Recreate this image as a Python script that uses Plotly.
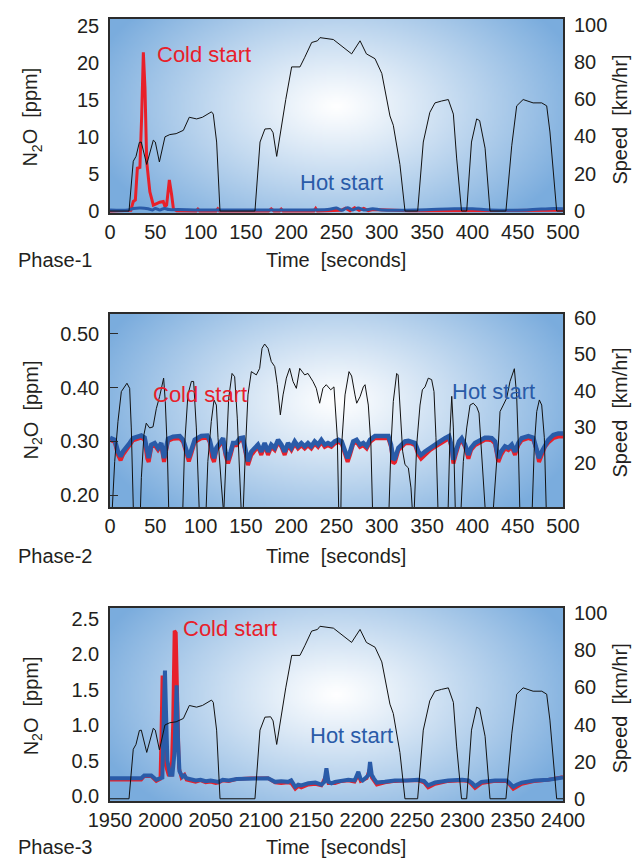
import base64, struct, zlib, math
import plotly.graph_objects as go

# ---------------- DATA ----------------
# Phase-1 speed (km/hr)
t1_speed = [0, 21, 25.7, 28.7, 32.4, 34.5, 40.5, 47.8, 50, 54.5, 60.7, 66, 73, 81, 87.5, 95.6, 102, 112, 114,
            117.7, 121.4, 160, 165.6, 171, 177.3, 180, 184, 187.6, 194, 200.5, 209.7, 215, 222.6, 229, 231.8,
            246.5, 255.7, 266.7, 276, 283, 292.5, 300, 309, 312.7, 320, 325.6, 339.6, 345.8, 353, 358.7, 366,
            373.4, 379, 382.6, 388, 393.7, 399, 404.7, 408, 414, 419.4, 437, 443.4, 448.9, 456, 467, 476.5,
            482, 485.6, 489.3, 493, 500]
speed1 = [0, 0, 26.7, 29.3, 36.8, 37, 25, 38, 37, 26.3, 39.8, 41, 41.5, 43.3, 50.3, 49.4, 50.3, 53.2, 52,
          37, 0, 0, 37, 44, 44.2, 42, 29.3, 40.7, 59.8, 77.3, 77.3, 82.5, 90.4, 91.3, 93,
          92, 88.6, 84.3, 91.3, 84.3, 81.7, 73.8, 51, 46, 25, 0, 0, 37, 52.9, 58, 59,
          59.8, 52, 28.4, 0, 0, 37, 49.4, 48.5, 33.7, 0, 0, 35, 56.4, 59.8, 58, 58,
          56.4, 42.4, 20, 0, 0]

# Phase-1 N2O (ppm)
t1_cold = [0, 20, 23, 25.7, 28, 30.2, 33, 35, 36.8, 38.6, 40.5, 44, 47.8, 51.5, 55, 58.8, 60.7, 62.5, 64.4,
           65.5, 68, 70, 73.6, 95, 97, 99, 117, 119, 121, 175, 178, 181, 187, 189, 191, 225, 227, 229,
           255, 260, 265, 270, 275, 280, 285, 290, 330, 400, 500]
n2o1_cold = [0, 0, 0.1, 1.3, 1.5, 5.8, 5.9, 13, 21.5, 16.7, 6.7, 2.6, 0.8, 1.0, 1.2, 1.3, 0.6, 0.8, 3.55,
             4.2, 2.2, 0.3, 0.05, 0, 0.25, 0, 0, 0.3, 0, 0, 0.3, 0, 0, 0.25, 0, 0, 0.35, 0,
             0.1, 0.4, 0.05, 0.45, 0.1, 0.35, 0.05, 0.2, 0.05, 0.1, 0.1]
t1_hot = [0, 20, 26, 34, 42, 47, 50, 55, 60, 65, 75, 100, 150, 200, 240, 250, 256, 262, 268, 274, 280, 290,
          300, 340, 380, 400, 420, 460, 490, 500]
n2o1_hot = [0.15, 0.15, 0.35, 0.4, 0.3, 0.15, 0.35, 0.15, 0.35, 0.2, 0.2, 0.15, 0.15, 0.15, 0.2, 0.4, 0.1,
            0.45, 0.15, 0.4, 0.15, 0.3, 0.15, 0.15, 0.3, 0.3, 0.15, 0.15, 0.35, 0.3]

# Phase-2 speed (km/hr)
t2_speed = [0, 2, 5.2, 8.8, 12.5, 16.2, 18.7, 21.7, 23.5, 26.5, 32.7, 34.6, 37.5, 40, 43.8, 47.5, 51.1, 54.8,
            57.4, 59.2, 61, 63.3, 65.5, 79.5, 82.4, 86, 89.8, 92.3, 95.3, 99.5, 105, 108, 111.8, 114.8, 117.4,
            119.2, 122.9, 125.5, 128.4, 131, 134.7, 137.6, 140.5, 143.2, 146, 149.4, 152.3, 156, 161.5, 165.2,
            167.8, 170.7, 174.4, 178, 181.8, 184.7, 188, 191, 194.6, 198.3, 202, 205.7, 209.4, 214.9, 218.5,
            224, 227.7, 231.4, 235, 238.7, 243.6, 247.2, 250.9, 253, 254.5, 255.7, 259.4, 263.8, 266.7, 270.4,
            272.3, 276, 279.6, 281.5, 285.1, 288, 290.5, 307, 310.2, 312.7, 316.4, 318, 320.8, 323, 325.6,
            329.3, 332.2, 335, 338.5, 342.2, 344.8, 347.7, 351.3, 355, 357.6, 359.8, 362.8, 372.5, 375.3,
            377.2, 379, 381.8, 386, 390, 393.7, 397.4, 401, 404.7, 407.3, 410.2, 413.1, 416, 421, 424.2,
            426.8, 428.6, 430.5, 434.1, 437.8, 441.5, 446.3, 448.8, 450.7, 453, 465, 468.4, 471, 473.9,
            476.5, 479.4, 482.3, 500]
speed2 = [0, 5, 20.5, 31.5, 39.7, 41, 42, 40.6, 29.7, 0, 0, 16, 27.9, 31, 29.7, 30, 35, 38.4,
          41.6, 43.4, 37, 23.3, 0, 0, 25, 38.8, 42.5, 42.5, 29.7, 0, 0, 20.5, 31.5, 37.4, 36,
          27, 14, 6, 23.3, 37.9, 44.7, 43.8, 32.4, 16, 0, 23.3, 38.8, 45.2, 44.3, 46.1,
          51.6, 52.8, 51.6, 48, 46.6, 41.6, 33.3, 38.8, 43.4, 46.1, 42.5, 40.6, 46.1, 44.3, 44.7,
          42.5, 40.6, 36.5, 40.6, 41.6, 40.2, 41, 27, 0, 0, 25, 38.8, 45.2, 44, 38.8,
          36.5, 38.3, 41, 41.6, 36, 25, 0, 0, 25, 37, 44.7, 44.3, 34.2, 23.3, 19.6,
          18.7, 13.2, 2, 25, 36, 40.2, 41, 43.4, 43, 39.7, 27, 0, 0, 28.8,
          38.4, 29.7, 0, 0, 20.5, 29.7, 36, 36.5, 35.5, 33.8, 23.3, 14.2, 0, 0, 12.3,
          20.5, 25, 34.2, 36, 37.9, 42.5, 46, 38.8, 25, 0, 0, 25, 34.2, 37.4,
          36, 27, 0, 0]

# Phase-2 N2O (ppm)
t2_n2o = [0, 5.2, 8.8, 11.7, 14.2, 17.9, 21.7, 25.4, 34.6, 38.2,
          41.2, 42.7, 45.6, 49.3, 53, 56.6, 59.6, 62.2, 64, 69.6,
          77, 80.7, 84.4, 87, 89.8, 93.5, 100.8, 107.5, 110, 112.6,
          114.8, 117.4, 121, 124.8, 127.4, 130.3, 133.2, 135.8, 139.5, 143.2,
          146.8, 149.4, 152.3, 156, 159.7, 163.3, 167, 170.7, 174.4, 178,
          181.8, 185.5, 189.2, 192.8, 196.5, 200.2, 203.9, 207.5, 211.2, 214.9,
          218.5, 222.2, 225.9, 229.6, 233.3, 237, 240.6, 244.3, 248, 252,
          255.7, 259.4, 262.3, 264.9, 268.5, 272.2, 275.9, 279.6, 283.3, 287,
          292.5, 299.9, 307.2, 310.2, 312.7, 314.6, 318.3, 322, 325.6, 329.3,
          333, 336.7, 340.4, 343.3, 347.7, 353.3, 358.8, 364.3, 369.8, 374.2,
          377.2, 379, 381.5, 385.2, 388.2, 391.9, 395.6, 398.5, 402.9, 406.6,
          410.2, 413.9, 417.6, 421.3, 425, 428.6, 431.6, 436, 439.7, 443.4,
          447, 450.7, 454.4, 461.8, 467.3, 471, 473.5, 476.5, 480.1, 483.8,
          489.3, 494.8, 500]
n2o2_hot = [0.307, 0.303, 0.281, 0.272, 0.281, 0.288, 0.297, 0.306, 0.311, 0.307,
            0.275, 0.269, 0.294, 0.297, 0.288, 0.297, 0.269, 0.288, 0.305, 0.309,
            0.310, 0.303, 0.281, 0.270, 0.284, 0.303, 0.310, 0.311, 0.303, 0.278,
            0.269, 0.288, 0.297, 0.306, 0.281, 0.266, 0.281, 0.297, 0.297, 0.306,
            0.307, 0.284, 0.263, 0.281, 0.288, 0.294, 0.281, 0.297, 0.281, 0.294,
            0.288, 0.303, 0.294, 0.281, 0.297, 0.288, 0.300, 0.291, 0.297, 0.291,
            0.297, 0.291, 0.300, 0.294, 0.303, 0.294, 0.297, 0.294, 0.300, 0.303,
            0.300, 0.284, 0.269, 0.281, 0.300, 0.303, 0.294, 0.297, 0.291, 0.303,
            0.310, 0.310, 0.310, 0.294, 0.266, 0.269, 0.288, 0.294, 0.300, 0.301,
            0.300, 0.297, 0.281, 0.275, 0.281, 0.288, 0.294, 0.300, 0.306, 0.310,
            0.291, 0.266, 0.281, 0.300, 0.306, 0.294, 0.275, 0.288, 0.297, 0.300,
            0.303, 0.307, 0.307, 0.306, 0.300, 0.269, 0.281, 0.291, 0.288, 0.294,
            0.281, 0.297, 0.306, 0.310, 0.307, 0.288, 0.269, 0.281, 0.294, 0.303,
            0.312, 0.315, 0.315]
n2o2_cold = [0.303, 0.299, 0.275, 0.265, 0.275, 0.284, 0.293, 0.302, 0.307, 0.303,
             0.268, 0.262, 0.290, 0.293, 0.284, 0.293, 0.262, 0.284, 0.301, 0.305,
             0.306, 0.299, 0.275, 0.263, 0.278, 0.299, 0.306, 0.307, 0.299, 0.271,
             0.262, 0.284, 0.293, 0.302, 0.275, 0.259, 0.275, 0.293, 0.293, 0.302,
             0.303, 0.278, 0.256, 0.275, 0.284, 0.290, 0.275, 0.293, 0.275, 0.290,
             0.284, 0.299, 0.290, 0.275, 0.293, 0.284, 0.296, 0.287, 0.293, 0.287,
             0.293, 0.287, 0.296, 0.290, 0.299, 0.290, 0.293, 0.290, 0.296, 0.299,
             0.296, 0.278, 0.262, 0.275, 0.296, 0.299, 0.290, 0.293, 0.287, 0.299,
             0.306, 0.306, 0.306, 0.290, 0.259, 0.262, 0.284, 0.290, 0.296, 0.297,
             0.296, 0.293, 0.275, 0.268, 0.275, 0.284, 0.290, 0.296, 0.302, 0.306,
             0.287, 0.259, 0.275, 0.296, 0.302, 0.290, 0.268, 0.284, 0.293, 0.296,
             0.299, 0.303, 0.303, 0.302, 0.296, 0.262, 0.275, 0.287, 0.284, 0.290,
             0.275, 0.293, 0.302, 0.306, 0.303, 0.284, 0.262, 0.275, 0.290, 0.298,
             0.306, 0.309, 0.309]

# Phase-3 speed (km/hr)
t3_speed = [1950, 1968.9, 1973.1, 1975.8, 1979.2, 1981.1, 1986.5, 1993.0, 1995, 1999.1, 2004.6, 2009.4,
            2015.7, 2022.9, 2028.8, 2036.0, 2041.8, 2050.8, 2052.6, 2055.9, 2059.3, 2094, 2099.0, 2103.9,
            2109.6, 2112, 2115.6, 2118.8, 2124.6, 2130.5, 2138.7, 2143.5, 2150.3, 2156.1, 2158.6, 2171.9,
            2180.1, 2190.0, 2198.4, 2204.7, 2213.3, 2220, 2228.1, 2231.4, 2238, 2243.0, 2255.6, 2261.2,
            2267.7, 2272.8, 2279.4, 2286.1, 2291.1, 2294.3, 2299.2, 2304.3, 2309.1, 2314.2, 2317.2, 2322.6,
            2327.5, 2343.3, 2349.1, 2354.0, 2360.4, 2370.3, 2378.9, 2383.8, 2387.0, 2390.4, 2393.7, 2400]
speed3 = [0, 0, 26.7, 29.3, 36.8, 37, 25, 38, 37, 26.3, 39.8, 41,
          41.5, 43.3, 50.3, 49.4, 50.3, 53.2, 52, 37, 0, 0, 37, 44,
          44.2, 42, 29.3, 40.7, 59.8, 77.3, 77.3, 82.5, 90.4, 91.3, 93, 92,
          88.6, 84.3, 91.3, 84.3, 81.7, 73.8, 51, 46, 25, 0, 0, 37,
          52.9, 58, 59, 59.8, 52, 28.4, 0, 0, 37, 49.4, 48.5, 33.7,
          0, 0, 35, 56.4, 59.8, 58, 58, 56.4, 42.4, 20, 0, 0]

# Phase-3 N2O (ppm)
t3_hot = [1950, 1981, 1984, 1991, 1996, 2002, 2003.5, 2004.6, 2005.6, 2007, 2009.6, 2012, 2014, 2016.2,
          2017.5, 2019, 2022, 2024, 2026, 2030, 2035, 2040, 2045, 2050, 2055, 2058, 2062, 2068, 2076, 2090,
          2107, 2114, 2120, 2127, 2130, 2134, 2137, 2140, 2147, 2154, 2160, 2163, 2165, 2167, 2170, 2173.5,
          2180, 2186.7, 2193, 2196.7, 2199, 2201, 2205, 2207, 2208.3, 2210, 2212, 2215, 2223, 2233, 2245,
          2256, 2262, 2266, 2273, 2286, 2299.7, 2306, 2310, 2312.6, 2316, 2319, 2332.5, 2344, 2347, 2350.6,
          2354, 2359, 2372, 2385.6, 2400]
n2o3_hot = [0.25, 0.25, 0.29, 0.29, 0.23, 0.26, 1.2, 1.77, 1.2, 0.5, 0.3, 0.3, 0.6, 1.56,
            0.8, 0.35, 0.27, 0.29, 0.25, 0.24, 0.22, 0.23, 0.21, 0.22, 0.2, 0.2, 0.23, 0.22, 0.24, 0.25,
            0.25, 0.2, 0.21, 0.2, 0.22, 0.13, 0.16, 0.15, 0.18, 0.19, 0.16, 0.2, 0.39, 0.2, 0.18, 0.2,
            0.22, 0.23, 0.22, 0.34, 0.24, 0.22, 0.27, 0.3, 0.48, 0.3, 0.25, 0.19, 0.2, 0.22, 0.22,
            0.23, 0.21, 0.15, 0.19, 0.22, 0.23, 0.22, 0.18, 0.14, 0.17, 0.2, 0.22, 0.22, 0.18, 0.13,
            0.16, 0.19, 0.22, 0.23, 0.26]
t3_cold = [1950, 1981, 1984, 1991, 1996, 2000, 2001, 2002, 2003, 2005, 2008, 2011, 2012.5, 2014, 2015.5,
           2017, 2018.5, 2021, 2024, 2026, 2030, 2035, 2040, 2045, 2050, 2055, 2058, 2062, 2068, 2076, 2090,
           2107, 2114, 2120, 2127, 2130, 2134, 2137, 2140, 2147, 2154, 2160, 2165, 2167, 2173.5, 2180,
           2186.7, 2193, 2196.7, 2199, 2205, 2208.3, 2210, 2215, 2223, 2233, 2245, 2256, 2262, 2266, 2273,
           2286, 2299.7, 2306, 2312.6, 2319, 2332.5, 2344, 2350.6, 2359, 2372, 2385.6, 2400]
n2o3_cold = [0.23, 0.23, 0.28, 0.28, 0.21, 0.24, 0.9, 1.70, 0.9, 0.45, 0.3, 0.3, 1.0, 2.33, 2.3,
             1.0, 0.4, 0.26, 0.3, 0.23, 0.22, 0.2, 0.22, 0.19, 0.2, 0.18, 0.19, 0.22, 0.21, 0.24, 0.25,
             0.25, 0.19, 0.18, 0.19, 0.18, 0.1, 0.14, 0.12, 0.16, 0.17, 0.15, 0.3, 0.18, 0.18, 0.21,
             0.22, 0.2, 0.3, 0.21, 0.25, 0.4, 0.26, 0.16, 0.19, 0.21, 0.22, 0.22, 0.19, 0.12, 0.17,
             0.21, 0.22, 0.21, 0.11, 0.18, 0.21, 0.21, 0.1, 0.17, 0.21, 0.23, 0.27]

# tick labels
x12_ticks = list(range(0, 501, 50))
x3_ticks = list(range(1950, 2401, 50))
y1_ticks = [0, 5, 10, 15, 20, 25]
y2_ticks = [0.20, 0.30, 0.40, 0.50]
y3_ticks = [0.0, 0.5, 1.0, 1.5, 2.0, 2.5]
s13_ticks = [0, 20, 40, 60, 80, 100]
s2_ticks = [20, 30, 40, 50, 60]

# ---------------- STYLE ----------------
RED = "#e8202a"
BLUE = "#2a5ba8"
FONT = "Liberation Sans, Arial, Helvetica, sans-serif"
TXT = "#231f20"

W, H = 642, 859
L, R, T, B = 110, 79, 16, 58
PH = H - T - B


def ydom(top_px, bot_px):
    return [(H - B - bot_px) / PH, (H - B - top_px) / PH]


dom1 = ydom(16, 211)
dom2 = ydom(312, 506)
dom3 = ydom(607, 801)


def gradient_png(w, h, cx, cy, rx, ry, power, inner, outer):
    raw = bytearray()
    for j in range(h):
        raw.append(0)
        for i in range(w):
            dx = ((i + 0.5) / w - cx) / rx
            dy = ((j + 0.5) / h - cy) / ry
            d = min(1.0, math.sqrt(dx * dx + dy * dy))
            f = d ** power
            for k in range(3):
                raw.append(int(round(inner[k] + (outer[k] - inner[k]) * f)))

    def chunk(tag, data):
        return (struct.pack(">I", len(data)) + tag + data +
                struct.pack(">I", zlib.crc32(tag + data) & 0xFFFFFFFF))

    png = (b"\x89PNG\r\n\x1a\n" +
           chunk(b"IHDR", struct.pack(">IIBBBBB", w, h, 8, 2, 0, 0, 0)) +
           chunk(b"IDAT", zlib.compress(bytes(raw), 9)) +
           chunk(b"IEND", b""))
    return "data:image/png;base64," + base64.b64encode(png).decode()


bg = gradient_png(226, 97, 0.5, 0.45, 0.56, 0.78, 1.1, (255, 255, 255), (122, 172, 221))

fig = go.Figure()

# Panel 1
fig.add_trace(go.Scatter(x=t1_cold, y=n2o1_cold, mode="lines", line=dict(color=RED, width=3),
                         xaxis="x", yaxis="y", showlegend=False))
fig.add_trace(go.Scatter(x=t1_hot, y=n2o1_hot, mode="lines", line=dict(color=BLUE, width=3, shape="spline"),
                         xaxis="x", yaxis="y", showlegend=False))
fig.add_trace(go.Scatter(x=t1_speed, y=speed1, mode="lines", line=dict(color="#111111", width=1),
                         xaxis="x", yaxis="y2", showlegend=False))
# Panel 2
fig.add_trace(go.Scatter(x=t2_n2o, y=n2o2_cold, mode="lines", line=dict(color=RED, width=4),
                         xaxis="x2", yaxis="y3", showlegend=False))
fig.add_trace(go.Scatter(x=t2_n2o, y=n2o2_hot, mode="lines", line=dict(color=BLUE, width=4.5),
                         xaxis="x2", yaxis="y3", showlegend=False))
fig.add_trace(go.Scatter(x=t2_speed, y=speed2, mode="lines", line=dict(color="#111111", width=1),
                         xaxis="x2", yaxis="y4", showlegend=False))
# Panel 3
fig.add_trace(go.Scatter(x=t3_cold, y=n2o3_cold, mode="lines", line=dict(color=RED, width=3.5),
                         xaxis="x3", yaxis="y5", showlegend=False))
fig.add_trace(go.Scatter(x=t3_hot, y=n2o3_hot, mode="lines", line=dict(color=BLUE, width=4),
                         xaxis="x3", yaxis="y5", showlegend=False))
fig.add_trace(go.Scatter(x=t3_speed, y=speed3, mode="lines", line=dict(color="#111111", width=1),
                         xaxis="x3", yaxis="y6", showlegend=False))

tickfont = dict(family=FONT, size=20, color=TXT)
frame = dict(showline=True, linecolor="#2b2b2b", linewidth=1.5, mirror=True, showgrid=False, zeroline=False)


def xax(rng, ticks, anchor):
    return dict(range=rng, tickvals=ticks, ticks="", tickfont=tickfont, anchor=anchor,
                domain=[0, 1], ticklabelstandoff=0, **frame)


def ylax(rng, ticks, dom, fmt, inside=False):
    d = dict(range=rng, tickvals=ticks, tickformat=fmt, tickfont=tickfont, domain=dom,
             ticklabelstandoff=5, **frame)
    if inside:
        d.update(ticks="inside", ticklen=8, tickwidth=1.2, tickcolor="#2b2b2b")
    else:
        d.update(ticks="")
    return d


def yrax(rng, ticks, overlay, anchor):
    return dict(range=rng, tickvals=ticks, tickfont=tickfont, overlaying=overlay, side="right",
                anchor=anchor, showline=False, showgrid=False, zeroline=False, ticks="",
                ticklabelstandoff=10)


layout = dict(
    width=W, height=H, margin=dict(l=L, r=R, t=T, b=B),
    paper_bgcolor="white", plot_bgcolor="rgba(0,0,0,0)",
    xaxis=xax([0, 500], x12_ticks, "y"),
    xaxis2=xax([0, 500], x12_ticks, "y3"),
    xaxis3=xax([1950, 2400], x3_ticks, "y5"),
    yaxis=ylax([-0.3, 26], y1_ticks, dom1, "d"),
    yaxis2=yrax([-1.2, 103], s13_ticks, "y", "x"),
    yaxis3=ylax([0.178, 0.537], y2_ticks, dom2, ".2f", inside=True),
    yaxis4=yrax([7.9, 61.1], s2_ticks, "y3", "x2"),
    yaxis5=ylax([-0.07, 2.655], y3_ticks, dom3, ".1f"),
    yaxis6=yrax([-1.2, 103], s13_ticks, "y5", "x3"),
)
fig.update_layout(**layout)

images = []
for dom in (dom1, dom2, dom3):
    images.append(dict(source=bg, xref="paper", yref="paper", x=0, y=dom[1], sizex=1,
                       sizey=dom[1] - dom[0], xanchor="left", yanchor="top",
                       sizing="stretch", layer="below"))
fig.update_layout(images=images)


def px_x(px):
    return (px - L) / (W - L - R)


def px_y(py):
    return (H - B - py) / PH


ann = []
lab = dict(family=FONT, size=20, color=TXT)
for (ytitle_px, time_px) in ((115, 258), (409, 555), (706, 847)):
    ann.append(dict(text="N<sub>2</sub>O  [ppm]", x=px_x(32), y=px_y(ytitle_px), xref="paper",
                    yref="paper", textangle=-90, showarrow=False, font=lab,
                    xanchor="center", yanchor="middle"))
    ann.append(dict(text="Speed  [km/hr]", x=px_x(620), y=px_y(ytitle_px + 2), xref="paper",
                    yref="paper", textangle=-90, showarrow=False, font=lab,
                    xanchor="center", yanchor="middle"))
    ann.append(dict(text="Time  [seconds]", x=px_x(336), y=px_y(time_px), xref="paper", yref="paper",
                    showarrow=False, font=lab, xanchor="center", yanchor="middle"))
for name, ypx in (("Phase-1", 258), ("Phase-2", 555), ("Phase-3", 847)):
    ann.append(dict(text=name, x=px_x(16), y=px_y(ypx), xref="paper", yref="paper",
                    showarrow=False, font=lab, xanchor="left", yanchor="middle"))

big_red = dict(family=FONT, size=22, color=RED)
big_blue = dict(family=FONT, size=22, color=BLUE)
for text, font, xp, yp in (("Cold start", big_red, 204, 52), ("Hot start", big_blue, 341, 180),
                           ("Cold start", big_red, 200, 393), ("Hot start", big_blue, 493, 390),
                           ("Cold start", big_red, 230, 628), ("Hot start", big_blue, 351, 735)):
    ann.append(dict(text=text, x=px_x(xp), y=px_y(yp), xref="paper", yref="paper", showarrow=False,
                    font=font, xanchor="center", yanchor="middle"))
fig.update_layout(annotations=ann)

fig.write_html("out.html", config={"displayModeBar": False},
               post_script="document.body.style.margin='0';document.body.style.overflow='hidden';")
